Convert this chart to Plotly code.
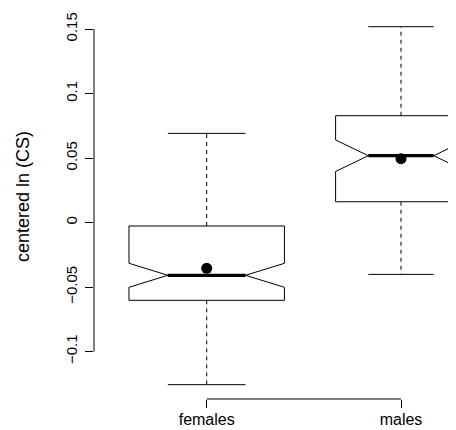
import numpy as np
import plotly.graph_objects as go

# ---- data ----
groups = ["females", "males"]
group_n = [96, 68]                      # used for variable box widths (sqrt(n))
q1 = [-0.0603, 0.0161]
medians = [-0.0409, 0.0518]
q3 = [-0.0027, 0.0828]
whisker_low = [-0.1257, -0.0402]
whisker_high = [0.0691, 0.1518]
means = [-0.0355, 0.0495]
notch_half = [0.0093, 0.0122]

y_ticks = [-0.1, -0.05, 0, 0.05, 0.1, 0.15]
y_tick_text = ["\u22120.1", "\u22120.05", "0", "0.05", "0.1", "0.15"]
y_title = "centered ln (CS)"

FONT = "Liberation Sans, Arial, Helvetica, sans-serif"

pos = list(range(1, len(groups) + 1))
nmax = max(group_n)
widths = [0.8 * np.sqrt(n / nmax) for n in group_n]

fig = go.Figure()

for i, g in enumerate(groups):
    # notched box (whiskers drawn separately, dashed like R)
    fig.add_trace(go.Box(
        x=[pos[i]], q1=[q1[i]], median=[medians[i]], q3=[q3[i]],
        lowerfence=[q1[i]], upperfence=[q3[i]],
        notchspan=[notch_half[i]], notched=True, notchwidth=0.25,
        width=widths[i], whiskerwidth=0,
        line=dict(color="black", width=1), fillcolor="rgba(255,255,255,0)",
        boxpoints=False, showlegend=False, name=g, hoverinfo="skip"))
    # dashed whiskers
    fig.add_trace(go.Scatter(
        x=[pos[i], pos[i], None, pos[i], pos[i]],
        y=[q3[i], whisker_high[i], None, q1[i], whisker_low[i]],
        mode="lines", line=dict(color="black", width=1, dash="4px,4px"),
        showlegend=False, hoverinfo="skip"))
    # whisker caps
    hw = widths[i] / 4
    fig.add_trace(go.Scatter(
        x=[pos[i] - hw, pos[i] + hw, None, pos[i] - hw, pos[i] + hw],
        y=[whisker_high[i], whisker_high[i], None, whisker_low[i], whisker_low[i]],
        mode="lines", line=dict(color="black", width=1),
        showlegend=False, hoverinfo="skip"))
    # thick median
    fig.add_trace(go.Scatter(
        x=[pos[i] - hw, pos[i] + hw], y=[medians[i], medians[i]],
        mode="lines", line=dict(color="black", width=3.2),
        showlegend=False, hoverinfo="skip"))

# means
fig.add_trace(go.Scatter(
    x=pos, y=means, mode="markers",
    marker=dict(color="black", size=11, line=dict(width=0)),
    showlegend=False, hoverinfo="skip"))

# R-style axis lines spanning only first..last tick
fig.add_shape(type="line", xref="paper", yref="y", x0=0, x1=0,
              y0=y_ticks[0], y1=y_ticks[-1], line=dict(color="black", width=1))
fig.add_shape(type="line", xref="x", yref="paper", x0=pos[0], x1=pos[-1],
              y0=0, y1=0, line=dict(color="black", width=1))

fig.add_annotation(text=y_title, textangle=-90, xref="paper", yref="paper",
                   x=-0.196, y=0.522, xanchor="center", yanchor="middle",
                   showarrow=False, font=dict(family=FONT, size=18, color="black"))

# the page body adds an 8px offset, so the figure is sized to end at the window edge
fig.update_layout(
    template="none",
    width=448, height=422,
    margin=dict(l=86, r=0, t=4, b=31, pad=0),
    paper_bgcolor="white", plot_bgcolor="white",
    boxmode="overlay",
    font=dict(family=FONT, color="black"),
    xaxis=dict(range=[0.42, 2.283], tickvals=pos, ticktext=groups,
               ticks="outside", ticklen=8, tickwidth=1, tickcolor="black",
               showline=False, showgrid=False, zeroline=False,
               automargin=False, ticklabelstandoff=-2,
               tickfont=dict(family=FONT, size=16, color="black")),
    yaxis=dict(range=[-0.1368, 0.1632], tickvals=y_ticks, ticktext=y_tick_text,
               tickangle=-90, ticks="outside", ticklen=8, tickwidth=1,
               tickcolor="black", showline=False, showgrid=False,
               zeroline=False, automargin=False, ticklabelstandoff=2,
               tickfont=dict(family=FONT, size=15, color="black")),
)

fig.write_html("out.html")
